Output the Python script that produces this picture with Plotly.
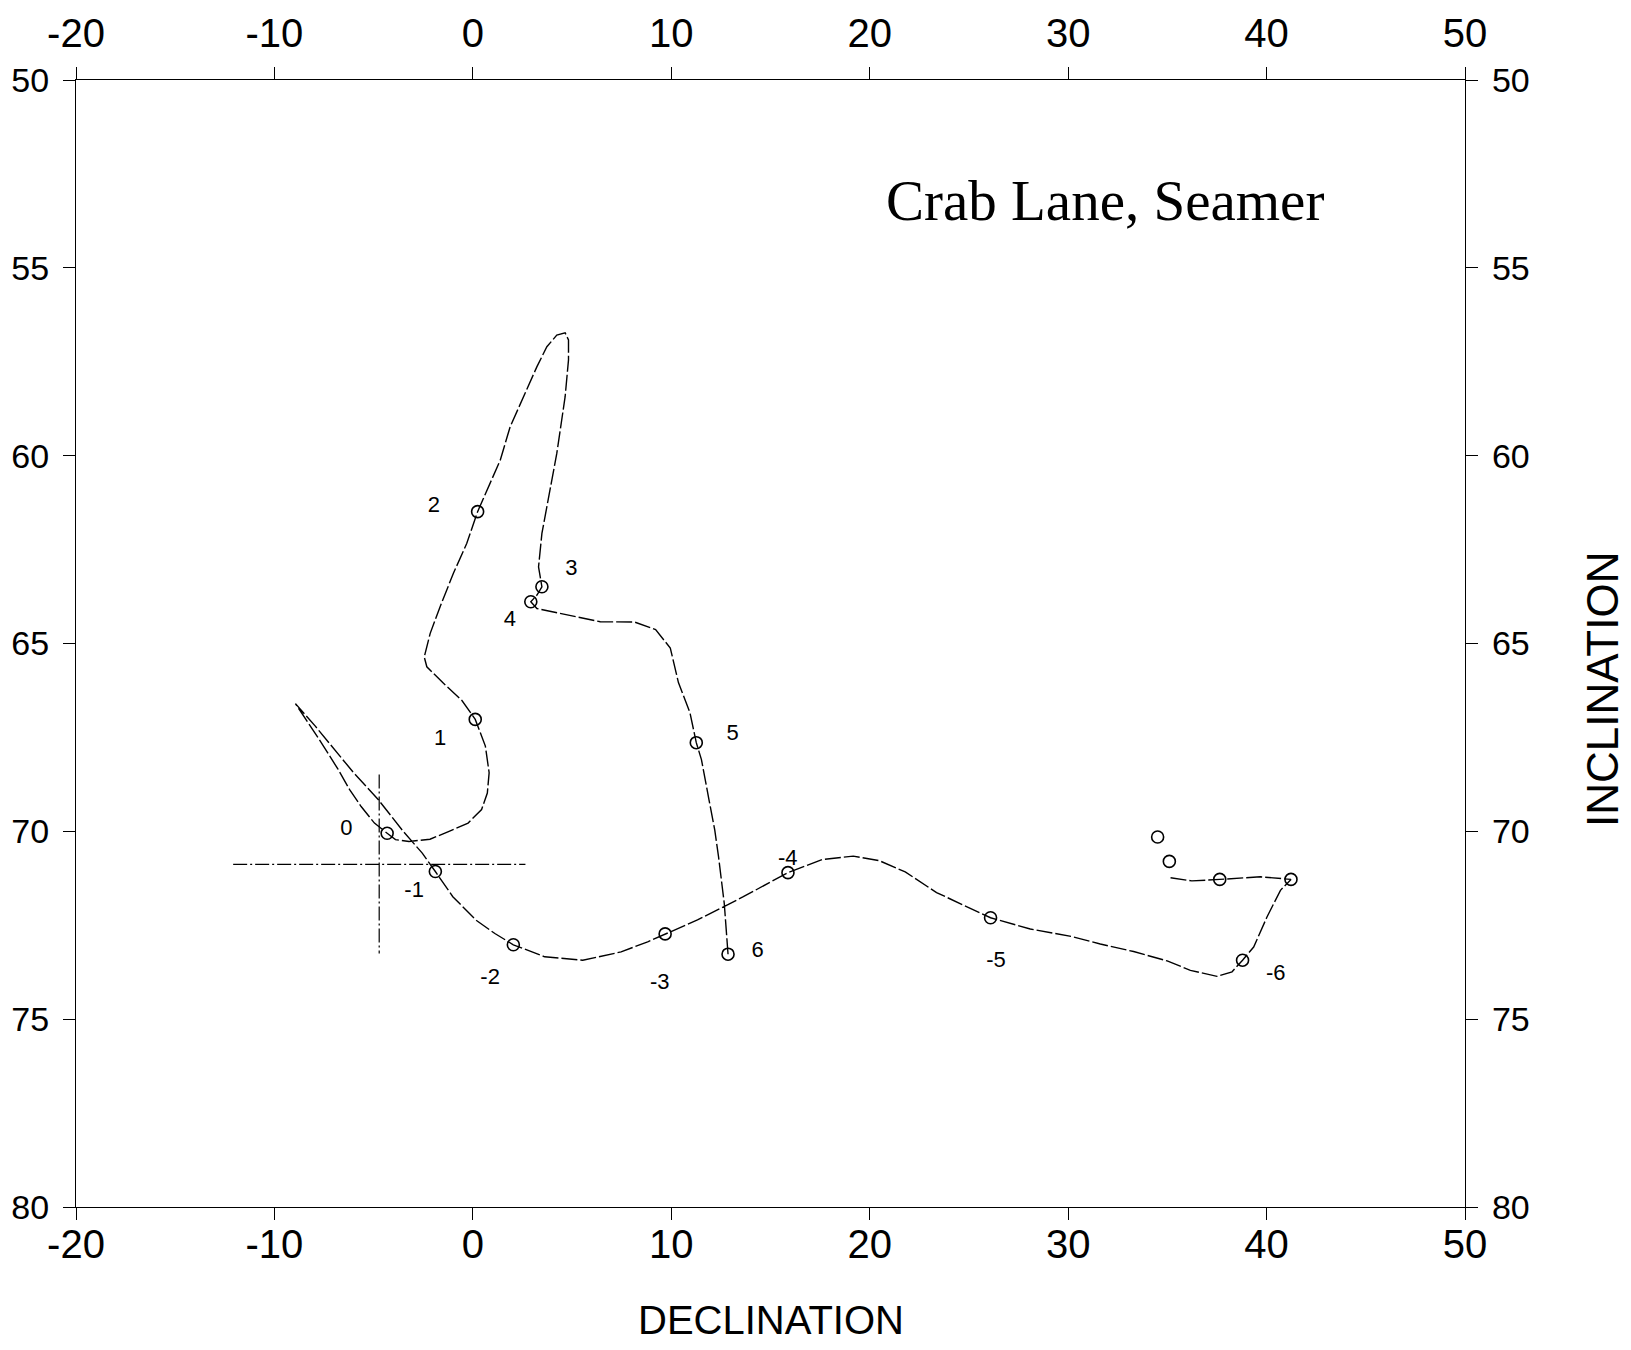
import plotly.graph_objects as go

# ---- data (declination, inclination) ----
path_dec = [12.86, 12.67, 12.38, 12.19, 11.90, 11.52, 11.26, 10.94, 10.36, 9.95, 9.21, 8.16,
            6.42, 5.57, 4.23, 3.23, 2.92, 3.23, 3.48, 3.39, 3.31, 3.48, 3.73, 4.23, 4.65,
            4.82, 4.82, 4.65, 4.23, 3.73, 3.23, 2.55, 1.88, 1.38, 0.70, 0.24, -0.31, -0.98,
            -1.65, -2.15, -2.45, -2.32, -1.48, -0.56, 0.12, 0.63, 0.82, 0.73, 0.44, -0.24,
            -1.20, -2.16, -3.22, -3.90, -4.32, -4.96, -5.63, -6.21, -6.79, -7.75, -8.94,
            -7.94, -6.01, -4.76, -3.51, -2.55, -1.89, -1.01, 0.15, 1.11, 2.04, 3.62, 5.54,
            7.47, 8.81, 9.69, 11.32, 13.63, 15.17, 15.88, 17.60, 19.17, 20.48, 21.79, 23.37,
            24.94, 26.09, 28.09, 30.18, 31.62, 33.30, 34.99, 36.16, 37.50, 38.26, 38.79,
            39.35, 40.02, 40.70, 41.23, 39.69, 37.64, 36.23, 35.10]
path_inc = [73.27, 71.92, 70.67, 69.96, 69.16, 68.09, 67.64, 66.84, 66.04, 65.12, 64.63, 64.43,
            64.42, 64.33, 64.18, 64.07, 63.89, 63.71, 63.49, 63.22, 62.96, 62.07, 61.36, 59.94, 58.43,
            57.45, 56.92, 56.73, 56.79, 57.10, 57.63, 58.43, 59.23, 60.12, 60.91, 61.49, 62.34, 63.13,
            64.02, 64.73, 65.36, 65.62, 66.06, 66.51, 67.02, 67.73, 68.44, 68.98, 69.42, 69.78,
            70.00, 70.21, 70.27, 70.22, 70.05, 69.78, 69.34, 68.89, 68.35, 67.55, 66.60,
            67.20, 68.44, 69.16, 70.00, 70.58, 71.07, 71.74, 72.36, 72.72, 73.02, 73.34, 73.43,
            73.21, 72.94, 72.73, 72.36, 71.74, 71.29, 71.10, 70.75, 70.66, 70.78, 71.08, 71.63,
            72.02, 72.30, 72.60, 72.80, 73.00, 73.20, 73.45, 73.70, 73.86, 73.74, 73.43,
            73.08, 72.28, 71.57, 71.28, 71.21, 71.28, 71.32, 71.23]

circle_dec = [12.86, 11.26, 2.92, 3.48, 0.24, 0.12, -4.32, -1.89, 2.04, 9.69, 15.88, 26.09,
              38.79, 41.23, 37.64, 35.10, 34.51]
circle_inc = [73.27, 67.64, 63.89, 63.49, 61.49, 67.02, 70.05, 71.07, 73.02, 72.73, 71.10, 72.30,
              73.43, 71.28, 71.28, 70.80, 70.15]

label_text = ["2", "3", "4", "1", "5", "0", "-1", "-2", "-3", "6", "-4", "-5", "-6"]
label_dec = [-1.96, 4.96, 1.87, -1.65, 13.09, -6.37, -2.96, 0.87, 9.42, 14.35, 15.87, 26.36, 40.46]
label_inc = [61.36, 63.02, 64.40, 67.56, 67.42, 69.94, 71.61, 73.91, 74.04, 73.21, 70.75, 73.46, 73.82]

cross_h_dec = [-12.08, 2.65]
cross_h_inc = [70.88, 70.88]
cross_v_dec = [-4.72, -4.72]
cross_v_inc = [68.49, 73.25]

x_ticks = [-20, -10, 0, 10, 20, 30, 40, 50]
x_tick_text = ["-20", "-10", "0", "10", "20", "30", "40", "50"]
y_ticks = [50, 55, 60, 65, 70, 75, 80]
y_tick_text = ["50", "55", "60", "65", "70", "75", "80"]

title_text = "Crab Lane, Seamer"
x_title = "DECLINATION"
y_title = "INCLINATION"

SANS = "Liberation Sans, Arial, sans-serif"

fig = go.Figure()

fig.add_trace(go.Scatter(x=cross_h_dec, y=cross_h_inc, mode="lines", xaxis="x2", yaxis="y2",
                         line=dict(color="black", width=1.2, dash="14px,3px,2px,3px"),
                         hoverinfo="skip", showlegend=False))
fig.add_trace(go.Scatter(x=cross_v_dec, y=cross_v_inc, mode="lines", xaxis="x2", yaxis="y2",
                         line=dict(color="black", width=1.2, dash="14px,3px,2px,3px"),
                         hoverinfo="skip", showlegend=False))
fig.add_trace(go.Scatter(x=path_dec, y=path_inc, mode="lines",
                         line=dict(color="black", width=1.4, dash="16px,3px"),
                         showlegend=False))
fig.add_trace(go.Scatter(x=circle_dec, y=circle_inc, mode="markers",
                         marker=dict(symbol="circle-open", size=12, color="black",
                                     line=dict(width=1.6, color="black")),
                         showlegend=False))
fig.add_trace(go.Scatter(x=label_dec, y=label_inc, mode="text", text=label_text,
                         textfont=dict(family=SANS, size=22, color="black"),
                         showlegend=False))

axis_common = dict(showgrid=False, zeroline=False, showline=True, linecolor="black",
                   linewidth=1.2, ticks="outside", ticklen=12, tickwidth=1.2,
                   tickcolor="black", automargin=False)
xfont = dict(family=SANS, size=40, color="black")
yfont = dict(family=SANS, size=34, color="black")

fig.update_layout(
    width=1631, height=1350,
    margin=dict(l=68, r=174, t=72, b=151),
    paper_bgcolor="white", plot_bgcolor="white",
    xaxis=dict(range=[-20, 50], tickvals=x_ticks, ticktext=x_tick_text, side="bottom",
               ticklabelstandoff=-10, tickfont=xfont, **axis_common),
    xaxis2=dict(range=[-20, 50], tickvals=x_ticks, ticktext=x_tick_text, side="top",
                overlaying="x", ticklabelstandoff=4, tickfont=xfont, **axis_common),
    yaxis=dict(range=[80, 50], tickvals=y_ticks, ticktext=y_tick_text, side="left",
               ticklabelstandoff=7, tickfont=yfont, **axis_common),
    yaxis2=dict(range=[80, 50], tickvals=y_ticks, ticktext=y_tick_text, side="right",
                overlaying="y", ticklabelstandoff=7, tickfont=yfont, **axis_common),
    annotations=[
        dict(x=31.86, y=53.22, xref="x", yref="y", text=title_text, showarrow=False,
             font=dict(family="Liberation Serif, Times New Roman, serif", size=57, color="black")),
        dict(x=0.5, y=-0.100, xref="paper", yref="paper", text=x_title, showarrow=False,
             xanchor="center", yanchor="middle",
             font=dict(family=SANS, size=40, color="black")),
        dict(x=1.0986, y=0.4596, xref="paper", yref="paper", text=y_title, showarrow=False,
             textangle=-90, xanchor="center", yanchor="middle",
             font=dict(family=SANS, size=44, color="black")),
    ],
)

fig.write_html("out.html")
